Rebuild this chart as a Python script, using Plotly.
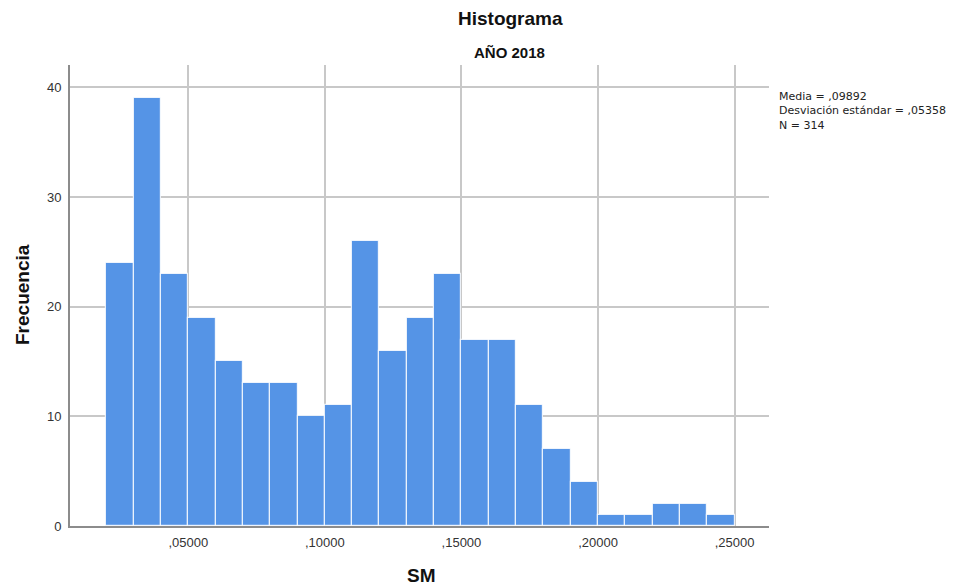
import plotly.graph_objects as go

bin_starts = [0.02, 0.03, 0.04, 0.05, 0.06, 0.07, 0.08, 0.09, 0.10, 0.11, 0.12, 0.13,
              0.14, 0.15, 0.16, 0.17, 0.18, 0.19, 0.20, 0.21, 0.22, 0.23, 0.24]
counts = [24, 39, 23, 19, 15, 13, 13, 10, 11, 26, 16, 19, 23, 17, 17, 11, 7, 4, 1, 1, 2, 2, 1]
bin_width = 0.01
x_tickvals = [0.05, 0.10, 0.15, 0.20, 0.25]
x_ticktext = [",05000", ",10000", ",15000", ",20000", ",25000"]
y_tickvals = [0, 10, 20, 30, 40]
stats_lines = ["Media = ,09892", "Desviación estándar = ,05358", "N = 314"]

FONT = "Liberation Sans, Arial, sans-serif"

fig = go.Figure()
fig.add_trace(go.Bar(
    x=[s + bin_width / 2 for s in bin_starts],
    y=counts,
    width=bin_width,
    marker=dict(color="#5594E6", line=dict(color="rgba(255,255,255,0.8)", width=1.2)),
    hoverinfo="x+y",
))

L, R, T, B = 70, 189, 65, 60
W, H = 958, 586
plot_w = W - L - R
plot_h = H - T - B

def px(xp):
    return (xp - L) / plot_w

def py(yp):
    return (H - B - yp) / plot_h

annotations = [
    dict(text="<b>Histograma</b>", x=px(510), y=py(18), yanchor="middle",
         font=dict(size=19, family=FONT, color="#111111")),
    dict(text="<b>AÑO 2018</b>", x=px(509), y=py(52), yanchor="middle",
         font=dict(size=15, family=FONT, color="#111111")),
    dict(text="<b>Frecuencia</b>", x=px(22), y=py(295), textangle=-90, yanchor="middle",
         font=dict(size=19, family=FONT, color="#111111")),
    dict(text="<b>SM</b>", x=px(421), y=py(575), yanchor="middle",
         font=dict(size=19, family=FONT, color="#111111")),
    dict(text="<br>".join(stats_lines), x=px(777), y=py(88), xanchor="left", yanchor="top",
         align="left", font=dict(size=11, family="DejaVu Sans, sans-serif", color="#222222")),
]
for a in annotations:
    a.setdefault("xanchor", "center")
    a.update(xref="paper", yref="paper", showarrow=False)

fig.update_layout(
    width=W, height=H,
    margin=dict(l=L, r=R, t=T, b=B),
    paper_bgcolor="white", plot_bgcolor="white",
    showlegend=False,
    bargap=0,
    font=dict(family=FONT, color="#222222"),
    xaxis=dict(
        range=[0.0067, 0.2626],
        tickvals=x_tickvals, ticktext=x_ticktext,
        tickfont=dict(size=13, family=FONT, color="#333333"),
        showgrid=True, gridcolor="#C8C8C8", gridwidth=1.5,
        showline=True, linecolor="#8C8C8C", linewidth=2,
        ticks="outside", ticklen=3, tickcolor="rgba(0,0,0,0)", zeroline=False,
    ),
    yaxis=dict(
        range=[0, 42.03],
        tickvals=y_tickvals,
        tickfont=dict(size=13, family=FONT, color="#333333"),
        showgrid=True, gridcolor="#C8C8C8", gridwidth=1.5,
        showline=True, linecolor="#8C8C8C", linewidth=2,
        ticks="outside", ticklen=4, tickcolor="rgba(0,0,0,0)", zeroline=False,
    ),
    annotations=annotations,
)

fig.write_html("out.html")
